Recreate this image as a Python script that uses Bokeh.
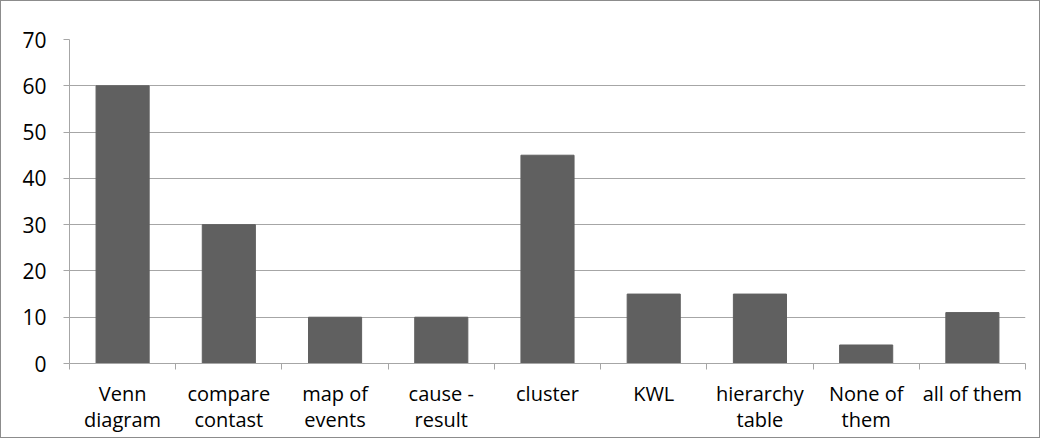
from bokeh.plotting import figure
from bokeh.models import FixedTicker, Range1d
from bokeh.embed import file_html
from bokeh.resources import INLINE

categories = ["Venn\ndiagram", "compare\ncontast", "map of\nevents", "cause -\nresult",
              "cluster", "KWL", "hierarchy\ntable", "None of\nthem", "all of them"]
values = [60, 30, 10, 10, 45, 15, 15, 4, 11]
y_ticks = [0, 10, 20, 30, 40, 50, 60, 70]

n = len(categories)
centers = [i + 0.5 for i in range(n)]
bounds = list(range(n + 1))

p = figure(width=1040, height=438, output_backend="svg", toolbar_location=None,
           x_range=Range1d(0, n), y_range=Range1d(0, 70),
           min_border_left=68, min_border_right=16, min_border_top=38, min_border_bottom=76)
p.styles = {"border": "1px solid #8c8c8c"}
p.outline_line_color = None
p.background_fill_color = "white"

p.vbar(x=centers, top=values, width=0.5, fill_color="#606060", line_color="#606060")

font = "Open Sans"
p.xaxis.ticker = FixedTicker(ticks=centers, minor_ticks=bounds)
p.xaxis.major_label_overrides = {c: lab for c, lab in zip(centers, categories)}
p.xaxis.major_tick_line_color = None
p.xaxis.minor_tick_line_color = "#a6a6a6"
p.xaxis.minor_tick_out = 6
p.xaxis.minor_tick_in = 0
p.xaxis.axis_line_color = "#a6a6a6"
p.xaxis.major_label_text_font = font
p.xaxis.major_label_text_font_size = "20px"
p.xaxis.major_label_text_line_height = 0.98
p.xaxis.major_label_text_color = "#000000"
p.xaxis.major_label_standoff = 10

p.yaxis.ticker = FixedTicker(ticks=y_ticks)
p.yaxis.minor_tick_line_color = None
p.yaxis.major_tick_line_color = "#a6a6a6"
p.yaxis.major_tick_out = 6
p.yaxis.major_tick_in = 0
p.yaxis.axis_line_color = "#a6a6a6"
p.yaxis.major_label_text_font = font
p.yaxis.major_label_text_font_size = "21px"
p.yaxis.major_label_text_color = "#000000"
p.yaxis.major_label_standoff = 17

p.xgrid.grid_line_color = None
p.ygrid.ticker = FixedTicker(ticks=y_ticks)
p.ygrid.grid_line_color = "#a6a6a6"

open("out.html", "w").write(file_html(p, INLINE))
